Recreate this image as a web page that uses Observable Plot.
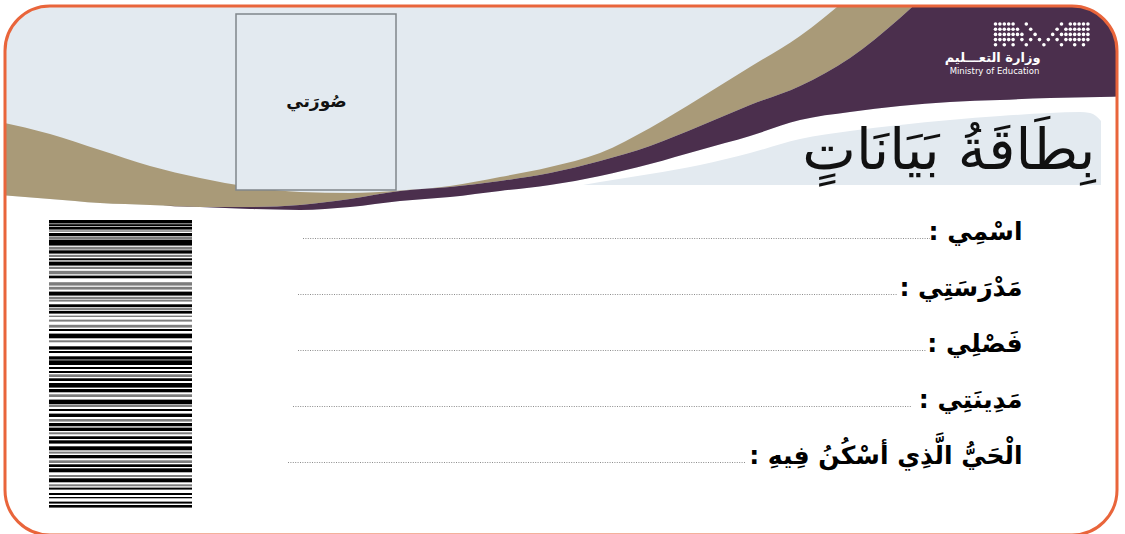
<!DOCTYPE html>
<html><head><meta charset="utf-8">
<script src="https://cdn.jsdelivr.net/npm/d3@7"></script>
<script src="https://cdn.jsdelivr.net/npm/@observablehq/plot@0.6"></script>
<style>html,body{margin:0;padding:0;background:#fff} svg{display:block}</style>
</head><body><div id="chart"></div>
<script>
// ---- header swoosh outlines (card coordinates, y downward) ----
const swooshX      = [0, 50, 100, 150, 200, 250, 300, 350, 400, 450, 500, 550, 600, 650, 700, 750, 800, 850, 900, 950, 1000, 1050, 1100, 1130];
const tanTop       = [122, 134, 150, 166, 178, 187, 192, 193, 190.5, 186, 177, 167, 153, 128, 98, 67, 36, -4, -50, -100, -150, -200, -250, -280];
const purpleTop    = [195, 199, 203, 205, 207, 207, 205, 199, 191, 187, 181, 173, 161, 146, 126, 105, 86, 58, 18, -30, -80, -130, -180, -210];
const purpleBottom = [195, 199, 203, 205, 207, 209, 210, 207, 201, 197, 191, 185, 176, 164, 150, 136, 120, 112, 106, 102, 100, 98, 97, 96];

// ---- title band ----
const titleBandX   = [583, 600, 650, 700, 750, 800, 850, 900, 950, 1000, 1050, 1080, 1090, 1096, 1101];
const titleBandTop = [185, 182, 174, 165, 153, 139, 131, 125, 120, 116, 113, 112, 113, 116, 121];
const titleBandBottom = 185;

// ---- card frame & photo box ----
const cardFrame = [{x1: 5, y1: 6, x2: 1117, y2: 535}];
const cardRadius = 45;
const photoBox = [{x1: 236, y1: 14, x2: 396, y2: 190}];

// ---- texts ----
const titleText = "بِطَاقَةُ بَيَانَاتٍ";
const photoText = "صُورَتي";
const ministryAr = "وزارة التعـــليم";
const ministryEn = "Ministry of Education";
const fieldLabels = ["اسْمِي :", "مَدْرَسَتِي :", "فَصْلِي :", "مَدِينَتِي :", "الْحَيُّ الَّذِي أسْكُنُ فِيهِ :"];
const fieldY      = [231, 287, 343, 399, 455];
const lineY       = [238, 294, 350, 406, 462];
const lineStart   = [303, 298, 298, 293, 288];
const lineEnd     = [930, 897, 926, 912, 745];

// ---- logo dot rows (column indexes) ----
const logoRows = [
  [0,1,2,3,4, 7, 15, 17,18,19,20,21],
  [0,1,2,3,4,5, 8, 14, 16,17,18,19,20,21],
  [0,1,2,3,4,5,6, 9, 13, 15,16,17,18,19,20,21],
  [0,1,2,3,4, 6, 8, 10, 12, 14, 16,17,18,19,20,21],
  [0, 2, 4, 7, 11, 15, 18, 20]
];

// ---- barcode bars ----
const barTop    = [220.0,224.2,227.0,230.3,233.0,237.0,239.6,246.8,250.3,254.8,258.3,261.6,266.8,270.8,275.6,282.2,286.8,291.6,296.8,299.6,304.3,307.6,311.0,315.6,319.6,324.8,329.0,333.6,340.3,346.3,351.0,356.3,360.3,367.0,371.0,374.3,378.3,383.0,389.0,394.3,399.6,405.0,409.0,413.6,419.0,423.0,427.6,432.3,436.3,440.3,446.3,451.6,455.0,460.3,464.3,468.3,475.0,478.3,484.3,487.6,493.0,497.0,501.6,505.0];
const barBottom = [223.5,226.3,229.6,231.8,236.3,239.0,245.6,249.6,253.6,257.0,260.3,265.6,269.0,274.3,278.3,285.6,289.6,295.6,299.0,301.6,307.0,310.3,313.6,317.0,321.6,327.6,331.0,338.3,342.3,349.6,353.0,359.6,365.0,369.0,373.0,377.0,381.0,387.6,392.3,397.0,404.3,407.0,411.0,417.0,421.6,426.3,431.0,434.3,439.0,443.6,450.3,453.6,458.3,463.0,467.0,472.3,477.0,482.3,486.3,489.6,495.0,498.3,503.6,507.6];
const barShade  = "kkkgkgkgkgkkggkggkggkgkgggkkgkkkkkkgkkkgkgkkgkkgkkkgkgkkgkgkkkkk";
const barcodeX  = [49, 192];

// ---- build tables ----
const swoosh = swooshX.map((x, i) => ({x, t: tanTop[i], p: purpleTop[i], b: purpleBottom[i]}));
const band = titleBandX.map((x, i) => ({x, top: titleBandTop[i], bottom: titleBandBottom}));
const fields = fieldLabels.map((label, i) => ({label: "\u200F" + label + "\u200F", y: fieldY[i]}));
const lines = lineY.map((y, i) => ({y, x1: lineStart[i], x2: lineEnd[i]}));
const bars = barTop.map((y1, i) => ({y1, y2: barBottom[i], x1: barcodeX[0], x2: barcodeX[1], shade: barShade[i]}));
const logoDots = logoRows.flatMap((cols, r) => cols.map(c => ({x: 995 + c * 4.4, y: 23.5 + r * 5.2})));
const mask = cardFrame.map(d => ({x1: d.x1 - 20, y1: d.y1 - 20, x2: d.x2 + 20, y2: d.y2 + 20}));

const LIGHT = "#e3eaf0", TAN = "#a99a78", PURPLE = "#4b2f4d", ORANGE = "#e9653b";
const FONT = "DejaVu Sans";

const chart = Plot.plot({
  width: 1125, height: 534, margin: 0,
  x: {domain: [0, 1125], range: [0, 1125], axis: null},
  y: {domain: [0, 534], range: [0, 534], axis: null},
  style: {background: "#fff", fontFamily: FONT},
  marks: [
    Plot.areaY(swoosh, {x: "x", y1: -30, y2: "b", fill: LIGHT, curve: "monotone-x"}),
    Plot.areaY(swoosh, {x: "x", y1: "t", y2: "p", fill: TAN, curve: "monotone-x"}),
    Plot.areaY(swoosh, {x: "x", y1: "p", y2: "b", fill: PURPLE, curve: "monotone-x"}),
    Plot.areaY(band, {x: "x", y1: "top", y2: "bottom", fill: LIGHT, curve: "monotone-x"}),
    Plot.rect(photoBox, {x1: "x1", y1: "y1", x2: "x2", y2: "y2", fill: LIGHT, stroke: "#80868b", strokeWidth: 1.5}),
    Plot.text([photoText], {x: 316, y: 101, text: d => d, fontSize: 17, fontWeight: "bold", fill: "#111"}),
    Plot.dot(logoDots, {x: "x", y: "y", r: 1.8, fill: "#fff"}),
    Plot.text([ministryAr], {x: 1040, y: 57, text: d => d, textAnchor: "end", fontSize: 13, fontWeight: "bold", fill: "#fff"}),
    Plot.text([ministryEn], {x: 994, y: 71, text: d => d, fontSize: 8.5, fill: "#fff"}),
    Plot.text([titleText], {x: 1095, y: 150, text: d => d, textAnchor: "end", fontSize: 57, fill: "#111"}),
    Plot.rect(bars, {x1: "x1", x2: "x2", y1: "y1", y2: "y2", fill: d => d.shade === "k" ? "#000" : "#7d7d7d"}),
    Plot.ruleY(lines, {y: "y", x1: "x1", x2: "x2", stroke: "#6f6f6f", strokeWidth: 0.8, strokeDasharray: "1,1.4"}),
    Plot.text(fields, {x: 1022, y: "y", text: "label", textAnchor: "end", fontSize: 25, fontWeight: "bold", fill: "#000"}),
    Plot.rect(mask, {x1: "x1", y1: "y1", x2: "x2", y2: "y2", fill: "none", stroke: "#fff", strokeWidth: 40, rx: cardRadius + 20, ry: cardRadius + 20}),
    Plot.rect(cardFrame, {x1: "x1", y1: "y1", x2: "x2", y2: "y2", fill: "none", stroke: ORANGE, strokeWidth: 3, rx: cardRadius, ry: cardRadius})
  ]
});
document.getElementById("chart").appendChild(chart);
</script>
</body></html>
